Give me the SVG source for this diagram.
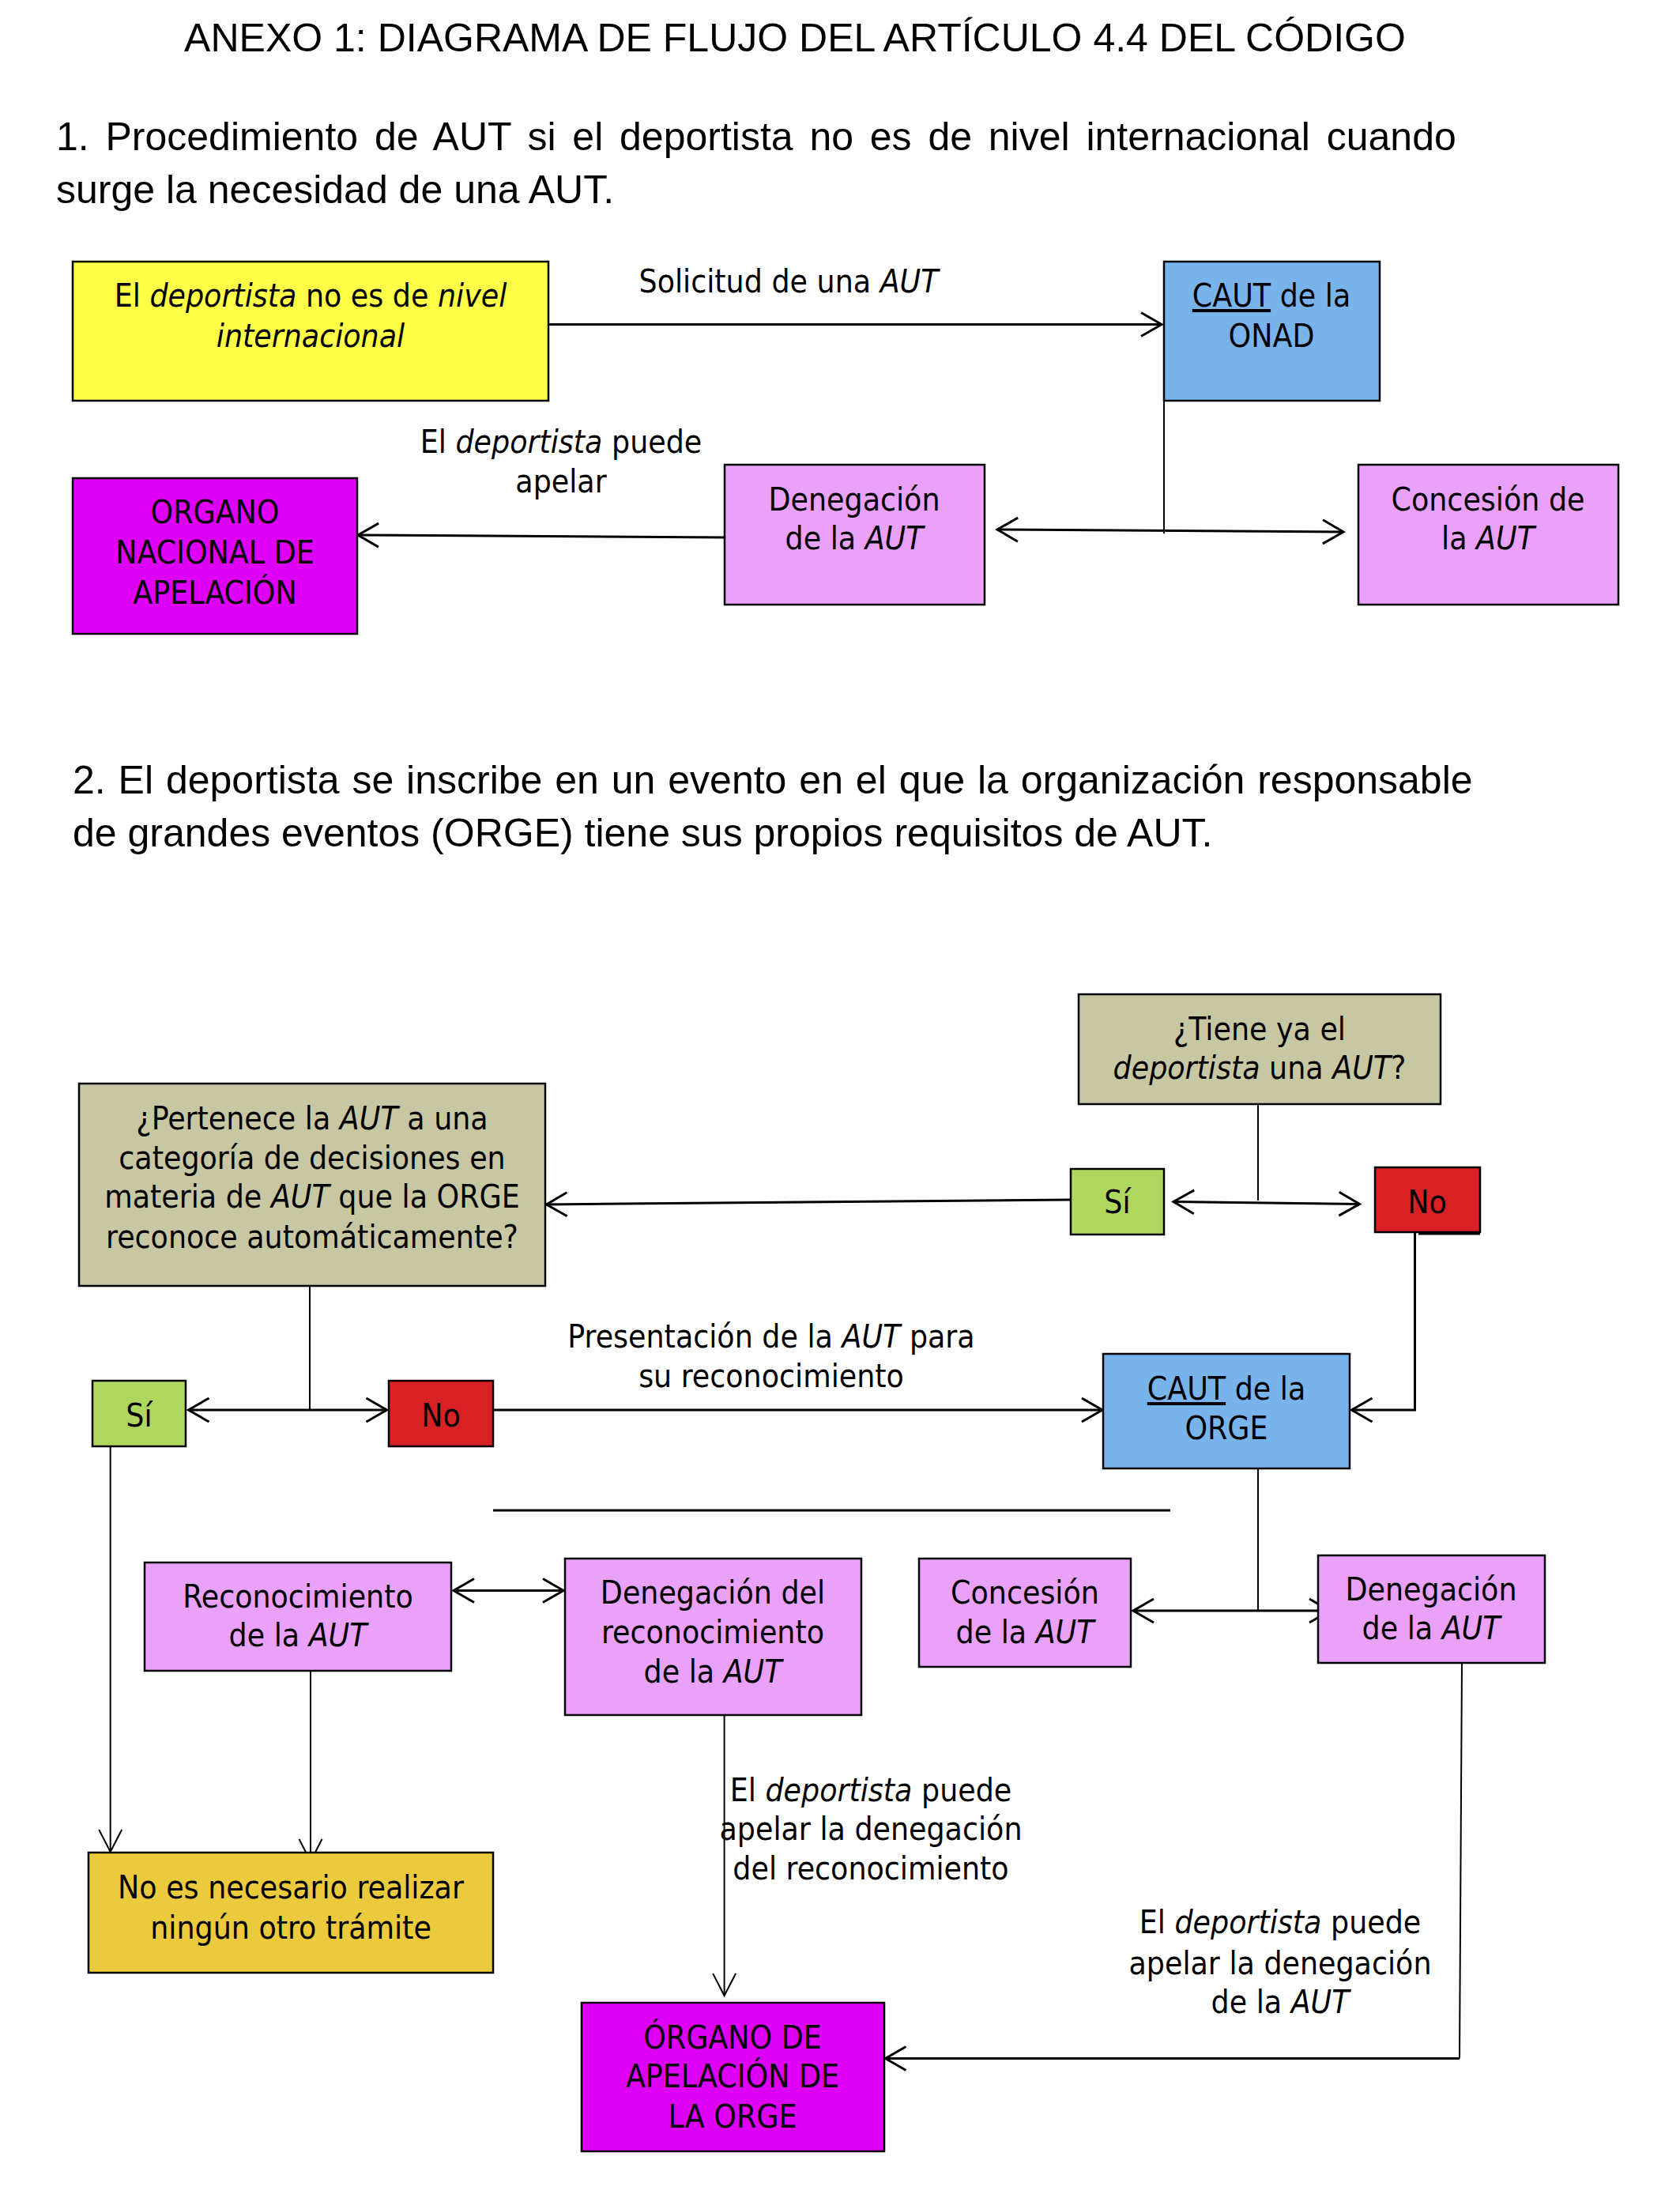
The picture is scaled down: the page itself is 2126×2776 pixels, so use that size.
<svg xmlns="http://www.w3.org/2000/svg" width="2126" height="2776" viewBox="0 0 2126 2776">
<style>
.bg{fill:#fff}
.box{stroke:#000;stroke-width:2.5}
.yel{fill:#FFFF47}.blu{fill:#79B3EC}.pnk{fill:#E9A1FA}.mag{fill:#DE00F5}
.kha{fill:#C8C7A4}.grn{fill:#AFD760}.red{fill:#D92024}.gld{fill:#ECCA3D}
.t{font-family:"DejaVu Sans Condensed","DejaVu Sans",sans-serif;font-stretch:condensed;font-size:40.5px;text-anchor:middle;fill:#000}
.i{font-style:italic}
.u{text-decoration:underline}
.h{font-family:"Liberation Sans",Arial,sans-serif;font-size:50px;fill:#000}
.c{stroke:#000;fill:none;stroke-width:3}
.cs{stroke:#000;fill:none;stroke-width:2}
</style>
<defs>
<marker id="ah" viewBox="-30 -20 40 40" refX="0" refY="0" markerWidth="40" markerHeight="40" markerUnits="userSpaceOnUse" orient="auto-start-reverse">
<path d="M-26,-15 L0,0 L-26,15" fill="none" stroke="#000" stroke-width="3"/>
</marker>
<marker id="ahs" viewBox="-30 -20 40 40" refX="0" refY="0" markerWidth="40" markerHeight="40" markerUnits="userSpaceOnUse" orient="auto-start-reverse">
<path d="M-28,-14.5 L0,0 L-28,14.5" fill="none" stroke="#000" stroke-width="2"/>
</marker>
</defs>
<rect class="bg" x="0" y="0" width="2126" height="2776"/>

<g id="headings">
<text class="h" x="1006" y="65" text-anchor="middle" font-size="50.3">ANEXO 1: DIAGRAMA DE FLUJO DEL ARTÍCULO 4.4 DEL CÓDIGO</text>
<text class="h" x="71" y="190" word-spacing="6.9">1. Procedimiento de AUT si el deportista no es de nivel internacional cuando</text>
<text class="h" x="71" y="257">surge la necesidad de una AUT.</text>
<text class="h" x="92" y="1004" word-spacing="2">2. El deportista se inscribe en un evento en el que la organización responsable</text>
<text class="h" x="92" y="1071">de grandes eventos (ORGE) tiene sus propios requisitos de AUT.</text>
</g>

<g id="connectors">
<line class="c" x1="694" y1="410.5" x2="1470" y2="410.5" marker-end="url(#ah)"/>
<line class="cs" x1="1473" y1="507" x2="1473" y2="675"/>
<line class="c" x1="1262" y1="670" x2="1700" y2="673" marker-start="url(#ah)" marker-end="url(#ah)"/>
<line class="c" x1="917" y1="680" x2="453" y2="677" marker-end="url(#ah)"/>

<line class="cs" x1="1592" y1="1397" x2="1592" y2="1519"/>
<line class="c" x1="1485" y1="1520.5" x2="1720.5" y2="1523.5" marker-start="url(#ah)" marker-end="url(#ah)"/>
<line class="c" x1="1355" y1="1518" x2="691.5" y2="1524" marker-end="url(#ah)"/>
<polyline class="c" points="1790.5,1560 1790.5,1784 1710.5,1784" marker-end="url(#ah)"/>
<line class="c" x1="1795" y1="1561" x2="1873" y2="1561"/>
<line class="cs" x1="392" y1="1628" x2="392" y2="1784"/>
<line class="c" x1="238.5" y1="1784" x2="489.5" y2="1784" marker-start="url(#ah)" marker-end="url(#ah)"/>
<line class="c" x1="624" y1="1784" x2="1395" y2="1784" marker-end="url(#ah)"/>
<line class="c" x1="624" y1="1911" x2="1481" y2="1911"/>
<line class="cs" x1="1592" y1="1858" x2="1592" y2="2038"/>
<line class="c" x1="1434" y1="2038" x2="1683" y2="2038" marker-start="url(#ah)" marker-end="url(#ah)"/>
<line class="c" x1="574" y1="2012.5" x2="713" y2="2012.5" marker-start="url(#ah)" marker-end="url(#ah)"/>
<line class="cs" x1="139.7" y1="1830" x2="139.7" y2="2343" marker-end="url(#ahs)"/>
<line class="cs" x1="393" y1="2114" x2="393" y2="2355" marker-end="url(#ahs)"/>
<line class="cs" x1="916.6" y1="2170" x2="916.6" y2="2525" marker-end="url(#ahs)"/>
<polyline class="cs" points="1850,2104 1847,2604.5"/>
<line class="c" x1="1847" y1="2604.5" x2="1120.5" y2="2604.5" marker-end="url(#ah)"/>

<text class="t" x="998" y="370">Solicitud de una <tspan class="i">AUT</tspan></text>
<text class="t" x="710" y="573">El <tspan class="i">deportista</tspan> puede</text>
<text class="t" x="710" y="623">apelar</text>
<text class="t" x="976" y="1705">Presentación de la <tspan class="i">AUT</tspan> para</text>
<text class="t" x="976" y="1755">su reconocimiento</text>
<text class="t" x="1102" y="2279">El <tspan class="i">deportista</tspan> puede</text>
<text class="t" x="1102" y="2328">apelar la denegación</text>
<text class="t" x="1102" y="2378">del reconocimiento</text>
<text class="t" x="1620" y="2446">El <tspan class="i">deportista</tspan> puede</text>
<text class="t" x="1620" y="2498">apelar la denegación</text>
<text class="t" x="1620" y="2547">de la <tspan class="i">AUT</tspan></text>
</g>

<g id="n1">
<rect class="box yel" x="92" y="331" width="602" height="176"/>
<text class="t" x="393" y="388">El <tspan class="i">deportista</tspan> no es de <tspan class="i">nivel</tspan></text>
<text class="t i" x="393" y="439">internacional</text>
</g>
<g id="n2">
<rect class="box blu" x="1473" y="331" width="273" height="176"/>
<text class="t" x="1609" y="388"><tspan class="u">CAUT</tspan> de la</text>
<text class="t" x="1609" y="439">ONAD</text>
</g>
<g id="n3">
<rect class="box pnk" x="917" y="588" width="329" height="177"/>
<text class="t" x="1081" y="646">Denegación</text>
<text class="t" x="1081" y="695">de la <tspan class="i">AUT</tspan></text>
</g>
<g id="n4">
<rect class="box pnk" x="1719" y="588" width="329" height="177"/>
<text class="t" x="1883" y="646">Concesión de</text>
<text class="t" x="1883" y="695">la <tspan class="i">AUT</tspan></text>
</g>
<g id="n5">
<rect class="box mag" x="92" y="605" width="360" height="197"/>
<text class="t" x="272" y="662">ORGANO</text>
<text class="t" x="272" y="713">NACIONAL DE</text>
<text class="t" x="272" y="764">APELACIÓN</text>
</g>

<g id="n6">
<rect class="box kha" x="1365" y="1258" width="458" height="139"/>
<text class="t" x="1594" y="1316">¿Tiene ya el</text>
<text class="t" x="1594" y="1365"><tspan class="i">deportista</tspan> una <tspan class="i">AUT</tspan>?</text>
</g>
<g id="n7">
<rect class="box grn" x="1355" y="1479" width="118" height="83"/>
<text class="t" x="1414" y="1535">Sí</text>
</g>
<g id="n8">
<rect class="box red" x="1740" y="1477" width="133" height="82"/>
<text class="t" x="1806" y="1535">No</text>
</g>
<g id="n9">
<rect class="box kha" x="100" y="1371" width="590" height="256"/>
<text class="t" x="395" y="1429">¿Pertenece la <tspan class="i">AUT</tspan> a una</text>
<text class="t" x="395" y="1479">categoría de decisiones en</text>
<text class="t" x="395" y="1528">materia de <tspan class="i">AUT</tspan> que la ORGE</text>
<text class="t" x="395" y="1579">reconoce automáticamente?</text>
</g>
<g id="n10">
<rect class="box grn" x="117" y="1747" width="118" height="83"/>
<text class="t" x="176" y="1805">Sí</text>
</g>
<g id="n11">
<rect class="box red" x="492" y="1747" width="132" height="83"/>
<text class="t" x="558" y="1805">No</text>
</g>
<g id="n12">
<rect class="box blu" x="1396" y="1713" width="312" height="145"/>
<text class="t" x="1552" y="1771"><tspan class="u">CAUT</tspan> de la</text>
<text class="t" x="1552" y="1821">ORGE</text>
</g>
<g id="n13">
<rect class="box pnk" x="183" y="1977" width="388" height="137"/>
<text class="t" x="377" y="2034">Reconocimiento</text>
<text class="t" x="377" y="2083">de la <tspan class="i">AUT</tspan></text>
</g>
<g id="n14">
<rect class="box pnk" x="715" y="1972" width="375" height="198"/>
<text class="t" x="902" y="2029">Denegación del</text>
<text class="t" x="902" y="2079">reconocimiento</text>
<text class="t" x="902" y="2129">de la <tspan class="i">AUT</tspan></text>
</g>
<g id="n15">
<rect class="box pnk" x="1163" y="1972" width="268" height="137"/>
<text class="t" x="1297" y="2029">Concesión</text>
<text class="t" x="1297" y="2079">de la <tspan class="i">AUT</tspan></text>
</g>
<g id="n16">
<rect class="box pnk" x="1668" y="1968" width="287" height="136"/>
<text class="t" x="1811" y="2025">Denegación</text>
<text class="t" x="1811" y="2074">de la <tspan class="i">AUT</tspan></text>
</g>
<g id="n17">
<rect class="box gld" x="112" y="2344" width="512" height="152"/>
<text class="t" x="368" y="2402">No es necesario realizar</text>
<text class="t" x="368" y="2453">ningún otro trámite</text>
</g>
<g id="n18">
<rect class="box mag" x="736" y="2534" width="383" height="188"/>
<text class="t" x="927" y="2592">ÓRGANO DE</text>
<text class="t" x="927" y="2641">APELACIÓN DE</text>
<text class="t" x="927" y="2692">LA ORGE</text>
</g>
</svg>
